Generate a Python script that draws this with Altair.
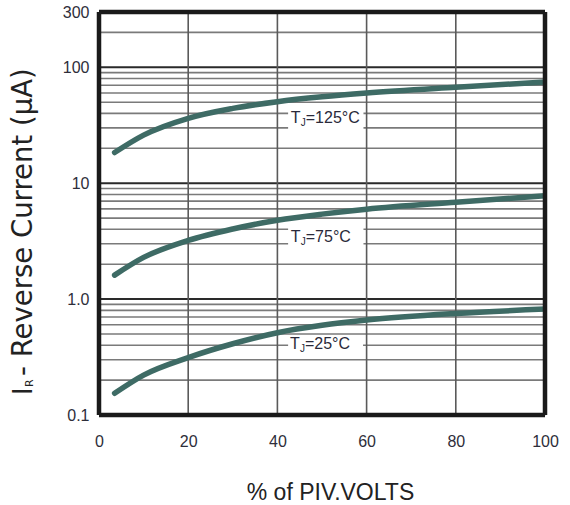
import altair as alt
import pandas as pd

# ---- data ----
X_PCT = [3.5, 10, 20, 30, 40, 50, 60, 80, 100]
IR_125C = [18.4, 26.0, 36.3, 44.2, 50.5, 55.6, 60.0, 67.3, 74.6]
IR_75C = [1.61, 2.29, 3.21, 4.03, 4.79, 5.41, 5.97, 6.85, 7.78]
IR_25C = [0.154, 0.221, 0.313, 0.412, 0.513, 0.594, 0.659, 0.752, 0.820]
SERIES = ["125", "75", "25"]

LABEL_TEXT = ["=125°C", "=75°C", "=25°C"]
LABEL_X = [43.0, 43.0, 42.8]
LABEL_Y = [36.3, 3.45, 0.41]
BOX_X0 = [42.4, 42.4, 42.4]
BOX_X1 = [59.3, 59.3, 59.2]
BOX_Y0 = [27.5, 2.70, 0.349]
BOX_Y1 = [46.1, 4.34, 0.470]

X_TICKS = [0, 20, 40, 60, 80, 100]
Y_TICKS = [0.1, 1, 10, 100, 300]
Y_TICK_LABELS = ["0.1", "1.0", "10", "100", "300"]
GRID_X = [20, 40, 60, 80]
MINOR_Y = [0.2, 0.3, 0.4, 0.5, 0.6, 0.7, 0.8, 0.9,
           2, 3, 4, 5, 6, 7, 8, 9,
           20, 30, 40, 50, 60, 70, 80, 90, 200]
MAJOR_Y = [1, 10, 100]
FRAME_X = [0, 100]
FRAME_Y = [0.1, 300]

X_TITLE = "% of PIV.VOLTS"
Y_TITLE_MAIN = "I"
Y_TITLE_SUB = "R"
Y_TITLE_REST = "- Reverse Current (μA)"

# ---- build tables ----
curves = pd.DataFrame({
    "x": X_PCT * 3,
    "y": IR_125C + IR_75C + IR_25C,
    "s": [SERIES[0]] * len(X_PCT) + [SERIES[1]] * len(X_PCT) + [SERIES[2]] * len(X_PCT),
})
labels = pd.DataFrame({"x": LABEL_X, "y": LABEL_Y, "t": LABEL_TEXT})
boxes = pd.DataFrame({"x": BOX_X0, "x1": BOX_X1, "y": BOX_Y0, "y1": BOX_Y1})
minor = pd.DataFrame({"y": MINOR_Y})
major = pd.DataFrame({"y": MAJOR_Y})
gridx = pd.DataFrame({"x": GRID_X})
framex = pd.DataFrame({"x": FRAME_X})
framey = pd.DataFrame({"y": FRAME_Y})
one = pd.DataFrame({"k": [0]})

xs = alt.Scale(domain=[0, 100], nice=False, zero=False)
ys = alt.Scale(type="log", domain=[0.1, 300], nice=False)

label_expr = ""
for v, l in zip(Y_TICKS, Y_TICK_LABELS):
    label_expr += f"abs(datum.value - {v}) < {v * 0.01} ? '{l}' : "
label_expr += "''"

FONT = "Liberation Sans"
LABEL_COLOR = "#2e2e3a"

YAXIS = alt.Axis(
    values=Y_TICKS, labelExpr=label_expr, grid=False, ticks=False, domain=False,
    labelFont=FONT, labelFontSize=16, labelColor=LABEL_COLOR, labelPadding=10,
    labelFlush=False, title=None)
XAXIS = alt.Axis(
    values=X_TICKS, grid=False, ticks=False, domain=False, format="d",
    labelFont=FONT, labelFontSize=16, labelColor=LABEL_COLOR, labelPadding=18,
    labelFlush=False, title=X_TITLE, titleFont=FONT, titleFontSize=23,
    titleFontWeight="normal", titleColor="#222222", titleX=231, titleY=84,
    titleBaseline="alphabetic")

X = alt.X("x:Q", scale=xs, axis=XAXIS)
Y = alt.Y("y:Q", scale=ys, axis=YAXIS)

minor_layer = alt.Chart(minor).mark_rule(color="#7a7a7a", strokeWidth=1.6).encode(y=Y)
major_layer = alt.Chart(major).mark_rule(color="#2a2a2a", strokeWidth=2).encode(y=Y)
vgrid = alt.Chart(gridx).mark_rule(color="#5a5a5a", strokeWidth=1.6).encode(x=X)
box_layer = alt.Chart(boxes).mark_rect(color="white").encode(
    x=X, x2="x1:Q", y=Y, y2="y1:Q")

base_txt = alt.Chart(labels)
t_layer = base_txt.mark_text(text="T", align="left", baseline="middle", font=FONT,
                             fontSize=16, color="#2a2a3a").encode(x=X, y=Y)
j_layer = base_txt.mark_text(text="J", align="left", baseline="middle", font=FONT,
                             fontSize=10, dx=10, dy=5, color="#2a2a3a").encode(x=X, y=Y)
rest_layer = base_txt.mark_text(align="left", baseline="middle", font=FONT,
                                fontSize=16, dx=15, color="#2a2a3a").encode(
    x=X, y=Y, text="t:N")

curve_layer = alt.Chart(curves).mark_line(
    color="#3e6b65", strokeWidth=5.5, interpolate="monotone", strokeCap="round", clip=True
).encode(x=X, y=Y, detail="s:N")

frame_v = alt.Chart(framex).mark_rule(color="#1a1a1a", strokeWidth=4.5).encode(x=X)
frame_h = alt.Chart(framey).mark_rule(color="#1a1a1a", strokeWidth=4.5).encode(y=Y)

YT_FONT = "DejaVu Sans"
yt_i = alt.Chart(one).mark_text(text=Y_TITLE_MAIN, angle=270, align="left",
                                baseline="alphabetic", font=YT_FONT, fontSize=26,
                                color="#222222").encode(
    x=alt.value(-67), y=alt.value(383))
yt_r = alt.Chart(one).mark_text(text=Y_TITLE_SUB, angle=270, align="left",
                                baseline="alphabetic", font=YT_FONT, fontSize=11,
                                color="#222222").encode(
    x=alt.value(-66), y=alt.value(375))
yt_rest = alt.Chart(one).mark_text(text=Y_TITLE_REST, angle=270, align="left",
                                   baseline="alphabetic", font=YT_FONT, fontSize=27.5,
                                   color="#222222").encode(
    x=alt.value(-67), y=alt.value(364))

chart = alt.layer(
    minor_layer, major_layer, vgrid, box_layer, t_layer, j_layer, rest_layer,
    curve_layer, frame_v, frame_h, yt_i, yt_r, yt_rest
).resolve_scale(x="shared", y="shared").properties(
    width=446, height=403,
    autosize=alt.AutoSizeParams(type="none"),
    padding={"left": 99, "top": 12, "right": 25, "bottom": 90},
).configure_view(stroke=None).configure(background="white")

chart.save("out.html", embed_options={"renderer": "svg", "actions": False})
